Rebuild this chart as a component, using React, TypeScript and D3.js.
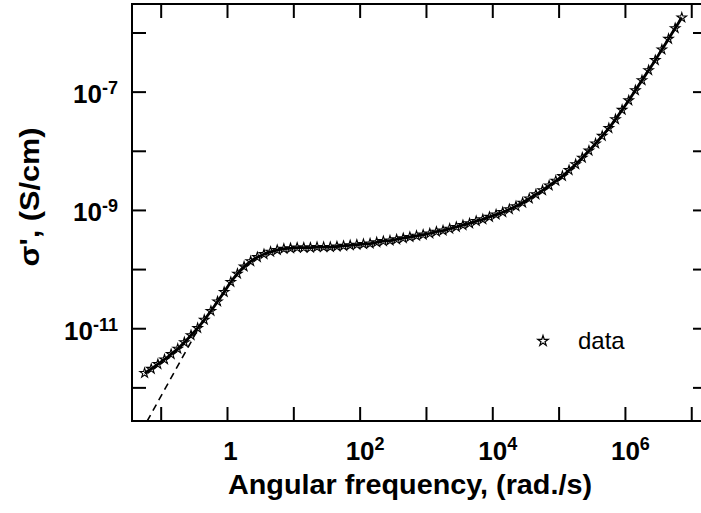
import React from "react";
import * as d3 from "d3";

// log10 of angular frequency (rad/s) of each measured point
const logFreq = [
  -1.25, -1.15, -1.05, -0.95, -0.85, -0.75, -0.65, -0.55, -0.45, -0.35,
  -0.25, -0.15, -0.05, 0.05, 0.15, 0.25, 0.35, 0.45, 0.55, 0.65,
  0.75, 0.85, 0.95, 1.05, 1.15, 1.25, 1.35, 1.45, 1.55, 1.65,
  1.75, 1.85, 1.95, 2.05, 2.15, 2.25, 2.35, 2.45, 2.55, 2.65,
  2.75, 2.85, 2.95, 3.05, 3.15, 3.25, 3.35, 3.45, 3.55, 3.65,
  3.75, 3.85, 3.95, 4.05, 4.15, 4.25, 4.35, 4.45, 4.55, 4.65,
  4.75, 4.85, 4.95, 5.05, 5.15, 5.25, 5.35, 5.45, 5.55, 5.65,
  5.75, 5.85, 5.95, 6.05, 6.15, 6.25, 6.35, 6.45, 6.55, 6.65,
  6.75, 6.85,
];
// log10 of sigma' (S/cm)
const logSigma = [
  -11.75, -11.68, -11.6, -11.52, -11.43, -11.34, -11.23, -11.11, -10.99, -10.85,
  -10.7, -10.54, -10.38, -10.21, -10.07, -9.95, -9.86, -9.79, -9.74, -9.7,
  -9.67, -9.65, -9.64, -9.63, -9.63, -9.63, -9.62, -9.62, -9.62, -9.61,
  -9.6, -9.59, -9.58, -9.57, -9.56, -9.54, -9.52, -9.51, -9.49, -9.47,
  -9.45, -9.43, -9.41, -9.39, -9.36, -9.34, -9.31, -9.28, -9.25, -9.22,
  -9.18, -9.15, -9.11, -9.07, -9.03, -8.98, -8.93, -8.87, -8.8, -8.73,
  -8.66, -8.58, -8.5, -8.42, -8.32, -8.22, -8.11, -7.99, -7.87, -7.74,
  -7.61, -7.46, -7.3, -7.14, -6.97, -6.8, -6.63, -6.46, -6.28, -6.1,
  -5.92, -5.74,
];
// dashed low-frequency power-law line
const dashLogFreq = [-1.3, -0.4];
const dashLogSigma = [-12.74, -10.92];

const xTickExps = [-1, 0, 1, 2, 3, 4, 5, 6, 7];
const xLabelExps = [0, 2, 4, 6];
const yTickExps = [-12, -11, -10, -9, -8, -7, -6];
const yLabelExps = [-11, -9, -7];

const W = 701;
const H = 513;
const L = 132, R = 707, T = 4, B = 421;
const FONT = "'Liberation Sans', Arial, sans-serif";

export default function App() {
  const x = d3.scaleLog().domain([10 ** -1.44, 10 ** 7.23]).range([L, R]);
  const y = d3.scaleLog().domain([10 ** -12.56, 10 ** -5.51]).range([B, T]);

  const pts = logFreq.map((f, i) => [10 ** f, 10 ** logSigma[i]] as [number, number]);
  const dashPts = dashLogFreq.map((f, i) => [10 ** f, 10 ** dashLogSigma[i]] as [number, number]);

  const line = d3
    .line<[number, number]>()
    .x((d) => x(d[0]))
    .y((d) => y(d[1]))
    .curve(d3.curveMonotoneX);

  const star = d3.symbol().type(d3.symbolStar).size(28)();
  const tickLen = 14;

  return (
    <div style={{ position: "absolute", left: 0, top: 0 }}>
      <svg width={W} height={H} style={{ display: "block", background: "#fff" }}>
        <defs>
          <clipPath id="plotClip">
            <rect x={L} y={T} width={R - L} height={B - T} />
          </clipPath>
        </defs>
        <rect x={0} y={0} width={W} height={H} fill="#fff" />

        {/* data */}
        <g clipPath="url(#plotClip)">
          <path d={line(dashPts) || ""} fill="none" stroke="#000" strokeWidth={1.6} strokeDasharray="7,5" />
          {pts.map((d, i) => (
            <path
              key={i}
              d={star || ""}
              transform={`translate(${x(d[0])},${y(d[1])})`}
              fill="#fff"
              stroke="#000"
              strokeWidth={1.1}
            />
          ))}
          <path d={line(pts) || ""} fill="none" stroke="#000" strokeWidth={2.8} />
        </g>

        {/* frame */}
        <rect x={L} y={T} width={R - L} height={B - T} fill="none" stroke="#000" strokeWidth={2} />

        {/* x ticks */}
        {xTickExps.map((e) => {
          const px = x(10 ** e);
          return (
            <g key={"xt" + e}>
              <line x1={px} x2={px} y1={B} y2={B - tickLen} stroke="#000" strokeWidth={2} />
              <line x1={px} x2={px} y1={T} y2={T + tickLen} stroke="#000" strokeWidth={2} />
            </g>
          );
        })}
        {/* y ticks */}
        {yTickExps.map((e) => {
          const py = y(10 ** e);
          return (
            <g key={"yt" + e}>
              <line x1={L} x2={L + tickLen} y1={py} y2={py} stroke="#000" strokeWidth={2} />
              <line x1={R} x2={R - tickLen} y1={py} y2={py} stroke="#000" strokeWidth={2} />
            </g>
          );
        })}

        {/* x tick labels */}
        {xLabelExps.map((e) => {
          const px = x(10 ** e);
          if (e === 0) {
            return (
              <text key={"xl" + e} x={px + 3} y={460} textAnchor="middle" fontFamily={FONT} fontWeight="bold" fontSize={26}>
                1
              </text>
            );
          }
          return (
            <text key={"xl" + e} x={px - 14.5} y={460} fontFamily={FONT} fontWeight="bold" fontSize={26}>
              10
              <tspan fontSize={18} dy={-10}>{e}</tspan>
            </text>
          );
        })}

        {/* y tick labels */}
        {yLabelExps.map((e) => {
          const py = y(10 ** e);
          return (
            <text key={"yl" + e} x={118} y={py + 11} textAnchor="end" fontFamily={FONT} fontWeight="bold" fontSize={26}>
              10
              <tspan fontSize={18} dy={-9}>{e}</tspan>
            </text>
          );
        })}

        {/* axis titles */}
        <text x={410} y={494} textAnchor="middle" fontFamily={FONT} fontWeight="bold" fontSize={27} textLength={364} lengthAdjust="spacingAndGlyphs">
          Angular frequency, (rad./s)
        </text>
        <text
          transform="translate(39,197) rotate(-90)"
          textAnchor="middle"
          fontFamily={FONT}
          fontWeight="bold"
          fontSize={27}
          textLength={139}
          lengthAdjust="spacingAndGlyphs"
        >
          σ', (S/cm)
        </text>

        {/* legend */}
        <path d={d3.symbol().type(d3.symbolStar).size(34)() || ""} transform="translate(543,341)" fill="#fff" stroke="#000" strokeWidth={1.2} />
        <text x={578} y={349} fontFamily={FONT} fontSize={24}>
          data
        </text>
      </svg>
    </div>
  );
}
